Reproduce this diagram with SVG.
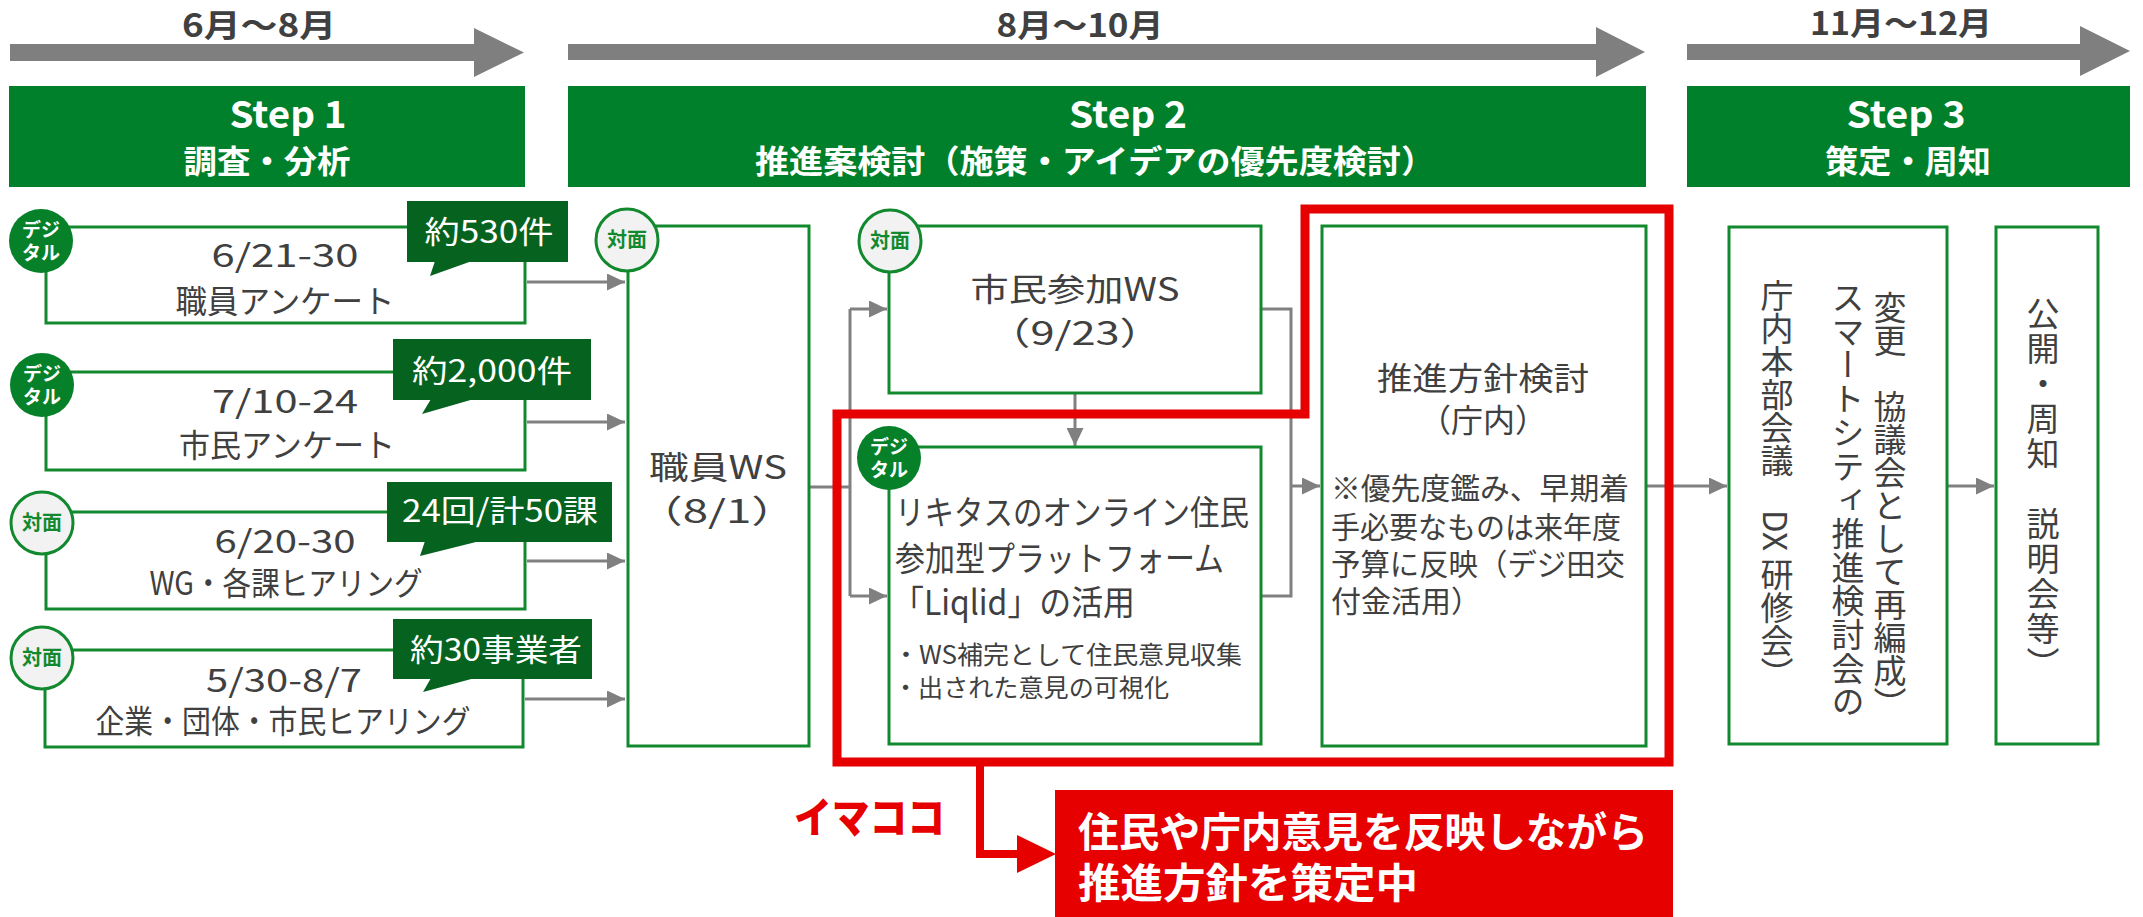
<svg xmlns="http://www.w3.org/2000/svg" width="2143" height="917" viewBox="0 0 2143 917">
<defs>
<style>
text{font-family:"Noto Sans CJK JP","Noto Sans",sans-serif;}
.tl{fill:#7f7f7f;}
.mon{font-size:32px;font-weight:700;fill:#404040;text-anchor:middle;}
.bar{fill:#00802a;}
.st{font-size:37px;font-weight:700;fill:#fff;text-anchor:middle;}
.sub{font-size:32px;font-weight:700;fill:#fff;text-anchor:middle;}
.box{fill:#fff;stroke:#12892e;stroke-width:3;}
.cl{fill:#05621f;}
.clt{font-size:31px;fill:#fff;text-anchor:middle;}
.t{fill:#404040;font-size:32px;text-anchor:middle;}
.tl2{fill:#404040;text-anchor:start;}
.dg{fill:#06812a;}
.dgt{font-size:19px;font-weight:700;fill:#fff;text-anchor:middle;}
.fm{fill:#f2f2f2;stroke:#12892e;stroke-width:3;}
.fmt{font-size:20px;font-weight:700;fill:#12892e;text-anchor:middle;}
.vt{fill:#404040;font-size:33px;writing-mode:vertical-rl;}
.con{fill:none;stroke:#808080;stroke-width:3;}
.red{fill:none;stroke:#e60000;stroke-width:9;}
</style>
<marker id="ah" markerUnits="userSpaceOnUse" markerWidth="18" markerHeight="17" refX="18" refY="8.5" orient="auto"><path d="M0,0 L18,8.5 L0,17 Z" fill="#808080"/></marker>
</defs>
<rect width="2143" height="917" fill="#fff"/>

<g id="timeline">
<polygon class="tl" points="10,44 474,44 474,28 524,52.5 474,77 474,61 10,61"/>
<text class="mon" x="259" y="37" textLength="154" lengthAdjust="spacingAndGlyphs">6月〜8月</text>
<polygon class="tl" points="568,44 1596,44 1596,27 1645,52 1596,77 1596,60 568,60"/>
<text class="mon" x="1080" y="37" textLength="167" lengthAdjust="spacingAndGlyphs">8月〜10月</text>
<polygon class="tl" points="1687,44 2080,44 2080,26 2130,51 2080,76 2080,60 1687,60"/>
<text class="mon" x="1901" y="35" textLength="182" lengthAdjust="spacingAndGlyphs">11月〜12月</text>
</g>

<g id="step1">
<rect class="bar" x="9" y="86" width="516" height="101"/>
<text class="st" x="288" y="128" textLength="117" lengthAdjust="spacingAndGlyphs">Step 1</text>
<text class="sub" x="267" y="173" textLength="167" lengthAdjust="spacingAndGlyphs">調査・分析</text>
</g>
<g id="step2">
<rect class="bar" x="568" y="86" width="1078" height="101"/>
<text class="st" x="1128" y="128" textLength="118" lengthAdjust="spacingAndGlyphs">Step 2</text>
<text class="sub" x="1095" y="173" textLength="680" lengthAdjust="spacingAndGlyphs">推進案検討（施策・アイデアの優先度検討）</text>
</g>
<g id="step3">
<rect class="bar" x="1687" y="86" width="443" height="101"/>
<text class="st" x="1906" y="128" textLength="119" lengthAdjust="spacingAndGlyphs">Step 3</text>
<text class="sub" x="1908" y="173" textLength="166" lengthAdjust="spacingAndGlyphs">策定・周知</text>
</g>

<g id="connectors">
<path class="con" d="M527,282 H625" marker-end="url(#ah)"/>
<path class="con" d="M527,422 H625" marker-end="url(#ah)"/>
<path class="con" d="M527,561 H625" marker-end="url(#ah)"/>
<path class="con" d="M525,699 H625" marker-end="url(#ah)"/>
<path class="con" d="M810,487 H850 M850,309 V596"/>
<path class="con" d="M850,309 H887" marker-end="url(#ah)"/>
<path class="con" d="M850,596 H887" marker-end="url(#ah)"/>
<path class="con" d="M1075,394 V446" marker-end="url(#ah)"/>
<path class="con" d="M1262,309 H1291 V596 H1262"/>
<path class="con" d="M1291,486 H1320" marker-end="url(#ah)"/>
<path class="con" d="M1647,486 H1727" marker-end="url(#ah)"/>
<path class="con" d="M1948,486 H1994" marker-end="url(#ah)"/>
</g>

<g id="card1">
<rect class="box" x="46" y="227" width="479" height="96"/>
<circle class="dg" cx="41" cy="241" r="32"/>
<text class="dgt" x="41" y="237">デジ</text>
<text class="dgt" x="41" y="260">タル</text>
<rect class="cl" x="407" y="201" width="161" height="61"/>
<polygon class="cl" points="435,261 472,261 430,276"/>
<text class="clt" x="489" y="243" textLength="129" lengthAdjust="spacingAndGlyphs">約530件</text>
<text class="t" x="285" y="267" font-size="34" textLength="147" lengthAdjust="spacingAndGlyphs">6/21-30</text>
<text class="t" x="285" y="313" textLength="219" lengthAdjust="spacingAndGlyphs">職員アンケート</text>
</g>
<g id="card2">
<rect class="box" x="46" y="372" width="479" height="98"/>
<circle class="dg" cx="42" cy="385" r="32"/>
<text class="dgt" x="42" y="381">デジ</text>
<text class="dgt" x="42" y="404">タル</text>
<rect class="cl" x="393" y="339" width="198" height="61"/>
<polygon class="cl" points="431,399 474,399 422,414"/>
<text class="clt" x="492" y="382" textLength="160" lengthAdjust="spacingAndGlyphs">約2,000件</text>
<text class="t" x="285" y="413" font-size="34" textLength="146" lengthAdjust="spacingAndGlyphs">7/10-24</text>
<text class="t" x="287" y="457" textLength="216" lengthAdjust="spacingAndGlyphs">市民アンケート</text>
</g>
<g id="card3">
<rect class="box" x="46" y="512" width="479" height="97"/>
<circle class="fm" cx="42" cy="523" r="31"/>
<text class="fmt" x="42" y="530">対面</text>
<rect class="cl" x="387" y="482" width="225" height="60"/>
<polygon class="cl" points="425,541 480,541 420,556"/>
<text class="clt" x="500" y="522" textLength="196" lengthAdjust="spacingAndGlyphs">24回/計50課</text>
<text class="t" x="285" y="553" font-size="34" textLength="141" lengthAdjust="spacingAndGlyphs">6/20-30</text>
<text class="t" x="286" y="595" textLength="273" lengthAdjust="spacingAndGlyphs">WG・各課ヒアリング</text>
</g>
<g id="card4">
<rect class="box" x="45" y="650" width="478" height="97"/>
<circle class="fm" cx="42" cy="658" r="31"/>
<text class="fmt" x="42" y="665">対面</text>
<rect class="cl" x="393" y="619" width="199" height="60"/>
<polygon class="cl" points="431,678 475,678 423,692"/>
<text class="clt" x="496" y="661" textLength="172" lengthAdjust="spacingAndGlyphs">約30事業者</text>
<text class="t" x="284" y="692" font-size="34" textLength="156" lengthAdjust="spacingAndGlyphs">5/30-8/7</text>
<text class="t" x="283" y="733" textLength="375" lengthAdjust="spacingAndGlyphs">企業・団体・市民ヒアリング</text>
</g>

<g id="staff-ws">
<rect class="box" x="628" y="226" width="181" height="520"/>
<circle class="fm" cx="627" cy="240" r="31"/>
<text class="fmt" x="627" y="247">対面</text>
<text class="t" x="718" y="479" font-size="34" textLength="138" lengthAdjust="spacingAndGlyphs">職員WS</text>
<text class="t" x="717" y="523" font-size="38" textLength="160" lengthAdjust="spacingAndGlyphs">（8/1）</text>
</g>

<g id="citizen-ws">
<rect class="box" x="889" y="226" width="372" height="167"/>
<circle class="fm" cx="890" cy="241" r="31"/>
<text class="fmt" x="890" y="248">対面</text>
<text class="t" x="1075" y="301" font-size="34" textLength="209" lengthAdjust="spacingAndGlyphs">市民参加WS</text>
<text class="t" x="1075" y="345" font-size="37" textLength="176" lengthAdjust="spacingAndGlyphs">（9/23）</text>
</g>

<g id="liqlid">
<rect class="box" x="889" y="447" width="372" height="297"/>
<circle class="dg" cx="889" cy="458" r="32"/>
<text class="dgt" x="889" y="454">デジ</text>
<text class="dgt" x="889" y="477">タル</text>
<text class="tl2" x="895" y="525" font-size="34" textLength="354" lengthAdjust="spacingAndGlyphs">リキタスのオンライン住民</text>
<text class="tl2" x="895" y="571" font-size="34" textLength="329" lengthAdjust="spacingAndGlyphs">参加型プラットフォーム</text>
<text class="tl2" x="892" y="615" font-size="34" textLength="243" lengthAdjust="spacingAndGlyphs">「Liqlid」の活用</text>
<text class="tl2" x="893" y="664" font-size="25" textLength="349" lengthAdjust="spacingAndGlyphs">・WS補完として住民意見収集</text>
<text class="tl2" x="893" y="697" font-size="25" textLength="276" lengthAdjust="spacingAndGlyphs">・出された意見の可視化</text>
</g>

<g id="policy">
<rect class="box" x="1322" y="226" width="324" height="520"/>
<text class="t" x="1483" y="390" font-size="35" textLength="212" lengthAdjust="spacingAndGlyphs">推進方針検討</text>
<text class="t" x="1483" y="432" font-size="36">（庁内）</text>
<text class="tl2" x="1331" y="499" font-size="30" textLength="298" lengthAdjust="spacingAndGlyphs">※優先度鑑み、早期着</text>
<text class="tl2" x="1331" y="538" font-size="30" textLength="290" lengthAdjust="spacingAndGlyphs">手必要なものは来年度</text>
<text class="tl2" x="1331" y="575" font-size="30" textLength="294" lengthAdjust="spacingAndGlyphs">予算に反映（デジ田交</text>
<text class="tl2" x="1331" y="612" font-size="30">付金活用）</text>
</g>

<g id="council">
<rect class="box" x="1729" y="227" width="218" height="517"/>
<text class="vt" x="1890" y="291">変更　協議会として再編成）</text>
<text class="vt" x="1848" y="281" letter-spacing="0.7">スマートシティ推進検討会の</text>
<text class="vt" x="1777" y="279">庁内本部会議　DX 研修会）</text>
</g>

<g id="publish">
<rect class="box" x="1996" y="227" width="102" height="517"/>
<text class="vt" x="2043" y="297" letter-spacing="2">公開・周知　説明会等）</text>
</g>

<g id="imacoco">
<path class="red" d="M837,414 H1305 V209 H1669 V762 H837 Z"/>
<path fill="none" stroke="#e60000" stroke-width="8" d="M980,762 V854 H1020"/>
<polygon fill="#e60000" points="1017,835 1056,854 1017,873"/>
<text x="794" y="833" font-size="42" font-weight="900" fill="#e60000" textLength="151" lengthAdjust="spacingAndGlyphs">イマココ</text>
<rect x="1055" y="790" width="618" height="127" fill="#e60000"/>
<text x="1078" y="847" font-size="41" font-weight="700" fill="#fff" textLength="570" lengthAdjust="spacingAndGlyphs">住民や庁内意見を反映しながら</text>
<text x="1078" y="898" font-size="41" font-weight="700" fill="#fff" textLength="340" lengthAdjust="spacingAndGlyphs">推進方針を策定中</text>
</g>
</svg>
